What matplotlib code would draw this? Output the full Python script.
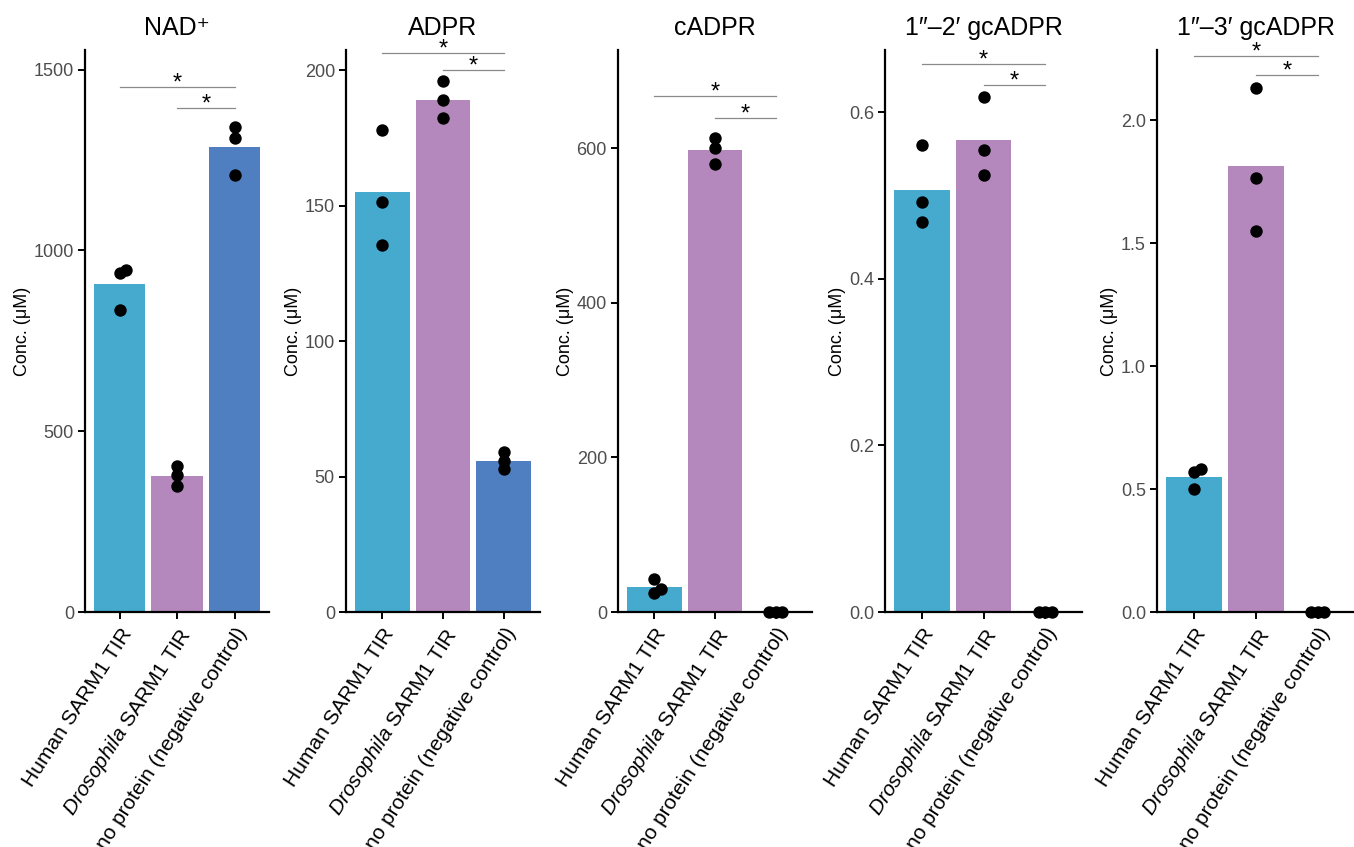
import numpy as np
import matplotlib
matplotlib.use("Agg")
import matplotlib.pyplot as plt

plt.rcParams["font.family"] = ["Liberation Sans", "DejaVu Sans"]
plt.rcParams["mathtext.fontset"] = "custom"
plt.rcParams["mathtext.rm"] = "Liberation Sans"
plt.rcParams["mathtext.it"] = "Liberation Sans:italic"

groups = ["Human SARM1 TIR", r"$\it{Drosophila}$ SARM1 TIR", "no protein (negative control)"]
colors = ["#45AACE", "#B488BC", "#4F7FC0"]

titles = ["NAD\u207a", "ADPR", "cADPR", "1\u2033\u20132\u2032 gcADPR", "1\u2033\u20133\u2032 gcADPR"]

# replicate values per group (human, drosophila, no protein)
nad = [[945, 937, 836], [405, 378, 348], [1340, 1312, 1207]]
adpr = [[178, 151.5, 135.5], [196, 189, 182.5], [59, 55.8, 52.8]]
cadpr = [[43, 30, 25], [613, 600, 579], [0, 0, 0]]
gc12 = [[0.561, 0.492, 0.468], [0.619, 0.555, 0.525], [0, 0, 0]]
gc13 = [[0.582, 0.570, 0.500], [2.131, 1.767, 1.549], [0, 0, 0]]
all_data = [nad, adpr, cadpr, gc12, gc13]

yticks = [[0, 500, 1000, 1500], [0, 50, 100, 150, 200], [0, 200, 400, 600],
          [0.0, 0.2, 0.4, 0.6], [0.0, 0.5, 1.0, 1.5, 2.0]]
ytick_fmt = ["{:.0f}", "{:.0f}", "{:.0f}", "{:.1f}", "{:.1f}"]
ytops = [1554, 207.5, 727, 0.675, 2.286]
# significance brackets: (from group, to group, height)
sig = [[(0, 2, 1452), (1, 2, 1393)],
       [(0, 2, 206.3), (1, 2, 200)],
       [(0, 2, 667), (1, 2, 639)],
       [(0, 2, 0.6585), (1, 2, 0.6325)],
       [(0, 2, 2.261), (1, 2, 2.183)]]

W, H = 1354, 847
fig = plt.figure(figsize=(W / 100, H / 100), dpi=100)

panel_px = [(85, 269), (346, 540), (618, 812), (885, 1082), (1157, 1355)]
top_px, bot_px = 50, 612


def swarm(vals, ax, step_px=6.5):
    # simple beeswarm: shift overlapping points sideways
    pts = ax.transData.transform([(0, v) for v in vals])[:, 1]
    x0 = ax.transData.transform([(0, 0)])[0, 0]
    x1 = ax.transData.transform([(1, 0)])[0, 0]
    ppu = x1 - x0
    order = np.argsort(vals)
    placed = []
    offs = np.zeros(len(vals))
    for i in order:
        cands = [0]
        for j in range(1, 6):
            cands += [j * step_px, -j * step_px]
        for c in cands:
            ok = True
            for (px, py) in placed:
                if np.hypot(px - c, py - pts[i]) < step_px - 0.01:
                    ok = False
                    break
            if ok:
                offs[i] = c
                placed.append((c, pts[i]))
                break
    return offs / ppu


for p, data in enumerate(all_data):
    l, r = panel_px[p]
    ax = fig.add_axes([l / W, 1 - bot_px / H, (r - l) / W, (bot_px - top_px) / H])
    x = np.arange(1, 4)
    means = [np.mean(d) for d in data]
    ax.bar(x, means, width=0.9, color=colors, zorder=1)
    ax.set_xlim(0.4, 3.6)
    ax.set_ylim(0, ytops[p])
    for i, d in enumerate(data):
        offs = swarm(d, ax)
        ax.scatter(x[i] + offs, d, s=80, color="black", zorder=3, clip_on=False, linewidths=0)
    for (a, b, h) in sig[p]:
        ax.plot([x[a], x[b]], [h, h], color="#8a8a8a", lw=0.9, clip_on=False, zorder=2)
        ax.annotate("*", xy=((x[a] + x[b]) / 2, h), xytext=(0, 2.5), textcoords="offset points",
                    ha="center", va="center", fontsize=17, annotation_clip=False)
    ax.set_yticks(yticks[p])
    ax.set_yticklabels([ytick_fmt[p].format(t) for t in yticks[p]])
    ax.set_xticks(x)
    ax.set_xticklabels(groups, rotation=57, ha="right", va="top", rotation_mode="anchor",
                       fontsize=15, color="black")
    ax.tick_params(axis="y", labelsize=13, labelcolor="#4d4d4d", length=5, width=1.4, pad=3)
    ax.tick_params(axis="x", length=5, width=1.4, pad=4)
    for s in ["top", "right"]:
        ax.spines[s].set_visible(False)
    for s in ["left", "bottom"]:
        ax.spines[s].set_linewidth(1.6)
    ax.set_ylabel("Conc. (\u03bcM)", fontsize=13, labelpad=2)
    ax.set_title(titles[p], fontsize=18, pad=11)

fig.savefig("out.png", dpi=100)
